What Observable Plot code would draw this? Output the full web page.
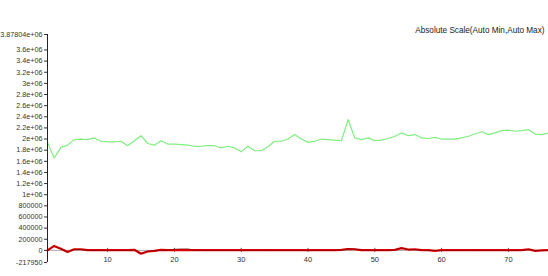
<!DOCTYPE html>
<html>
<head>
<meta charset="utf-8">
<script src="https://cdn.jsdelivr.net/npm/d3@7"></script>
<script src="https://cdn.jsdelivr.net/npm/@observablehq/plot@0.6"></script>
<style>
  html, body { margin: 0; padding: 0; background: #fff; }
  svg { display: block; }
</style>
</head>
<body>
<div id="chart"></div>
<script>
const title = "Absolute Scale(Auto Min,Auto Max)";

const greenValues = [
  1.94e6, 1.66e6, 1.85e6, 1.89e6, 1.99e6, 2.00e6, 1.99e6, 2.02e6, 1.96e6, 1.95e6,
  1.95e6, 1.96e6, 1.88e6, 1.97e6, 2.06e6, 1.92e6, 1.89e6, 1.97e6, 1.91e6, 1.91e6,
  1.90e6, 1.89e6, 1.87e6, 1.87e6, 1.88e6, 1.88e6, 1.84e6, 1.87e6, 1.84e6, 1.77e6,
  1.87e6, 1.79e6, 1.79e6, 1.86e6, 1.96e6, 1.96e6, 2.00e6, 2.08e6, 2.00e6, 1.94e6,
  1.96e6, 2.00e6, 1.99e6, 1.98e6, 1.97e6, 2.35e6, 2.02e6, 1.99e6, 2.02e6, 1.97e6,
  1.98e6, 2.01e6, 2.05e6, 2.11e6, 2.06e6, 2.08e6, 2.02e6, 2.01e6, 2.03e6, 2.00e6,
  2.00e6, 2.00e6, 2.02e6, 2.05e6, 2.09e6, 2.13e6, 2.08e6, 2.11e6, 2.15e6, 2.16e6,
  2.14e6, 2.15e6, 2.17e6, 2.09e6, 2.08e6, 2.11e6
];

const redValues = [
  0, 80000, 30000, -30000, 20000, 20000, 5000, 5000, 5000, 5000,
  5000, 5000, 5000, 10000, -60000, -20000, -10000, 10000, 5000, 5000,
  5000, 5000, 5000, 5000, 5000, 5000, 5000, 5000, 5000, 5000,
  5000, 5000, 5000, 5000, 5000, 5000, 5000, 5000, 5000, 5000,
  5000, 5000, 5000, 5000, 10000, 25000, 20000, 5000, 5000, 5000,
  5000, 5000, 10000, 40000, 15000, 20000, 5000, 5000, -10000, 5000,
  5000, 5000, 5000, 5000, 5000, 5000, 5000, 5000, 5000, 5000,
  5000, 5000, 20000, -10000, 0, 5000
];

const blackValues = [
  0, 70000, 25000, -25000, 15000, 15000, 0, 0, 0, 0,
  0, 0, 0, 5000, -50000, -15000, -5000, 5000, 0, 20000,
  30000, 30000, 0, 0, 0, 0, 0, 0, 0, 0,
  0, 0, 0, 0, 0, 0, 0, 0, 0, 0,
  0, 0, 0, 0, 5000, 30000, 25000, 0, 0, 0,
  0, 0, 5000, 45000, 10000, 15000, 0, 0, -5000, 0,
  0, 0, 0, 0, 0, 0, 0, 0, 0, 0,
  0, 0, 15000, -5000, 0, 0
];

const yTicks = [-217950, 0, 200000, 400000, 600000, 800000, 1000000, 1200000, 1400000,
  1600000, 1800000, 2000000, 2200000, 2400000, 2600000, 2800000, 3000000, 3200000,
  3400000, 3600000, 3878040];
const yTickLabels = ["-217950", "0", "200000", "400000", "600000", "800000", "1e+06",
  "1.2e+06", "1.4e+06", "1.6e+06", "1.8e+06", "2e+06", "2.2e+06", "2.4e+06", "2.6e+06",
  "2.8e+06", "3e+06", "3.2e+06", "3.4e+06", "3.6e+06", "3.87804e+06"];
const xTicks = [10, 20, 30, 40, 50, 60, 70];
const xTickLabels = ["10", "20", "30", "40", "50", "60", "70"];

const green = greenValues.map((v, i) => ({t: i + 1, v}));
const red = redValues.map((v, i) => ({t: i + 1, v}));
const black = blackValues.map((v, i) => ({t: i + 1, v}));

const chart = Plot.plot({
  width: 548,
  height: 276,
  marginLeft: 47,
  marginRight: 0,
  marginTop: 34,
  marginBottom: 14,
  style: {fontFamily: "'Liberation Sans', Arial, sans-serif", background: "#fff"},
  x: {domain: [1, 76], axis: null},
  y: {domain: [-217950, 3878040], axis: null},
  marks: [
    Plot.ruleY([0], {stroke: "#aaa", strokeWidth: 1}),
    Plot.ruleX(xTicks, {x: d => d, y1: 0, y2: 0, insetTop: -2, insetBottom: -2, stroke: "#555"}),
    Plot.text(xTicks, {x: d => d, y: 0, text: (d, i) => xTickLabels[i], dy: 9, fontSize: 7.5, fill: "#333"}),
    Plot.line(green, {x: "t", y: "v", stroke: "#80ee80", strokeWidth: 1.2}),
    Plot.line(red, {x: "t", y: "v", stroke: "#e00000", strokeWidth: 2.2, strokeLinejoin: "round"}),
    Plot.line(black, {x: "t", y: "v", stroke: "#500", strokeWidth: 0.6, strokeOpacity: 0.8}),
    Plot.axisY(yTicks, {anchor: "left", label: null, tickFormat: (d, i) => yTickLabels[i], tickSize: 3,
      tickPadding: 2, fontSize: 7.2, stroke: "#333", fill: "#333", style: "letter-spacing:-0.3px"}),
    Plot.ruleX([1], {stroke: "#222"}),
    Plot.text([title], {frameAnchor: "top-right", dx: -4, dy: -7, fontSize: 8.2, fill: "#222"})
  ]
});
document.getElementById("chart").appendChild(chart);
</script>
</body>
</html>
